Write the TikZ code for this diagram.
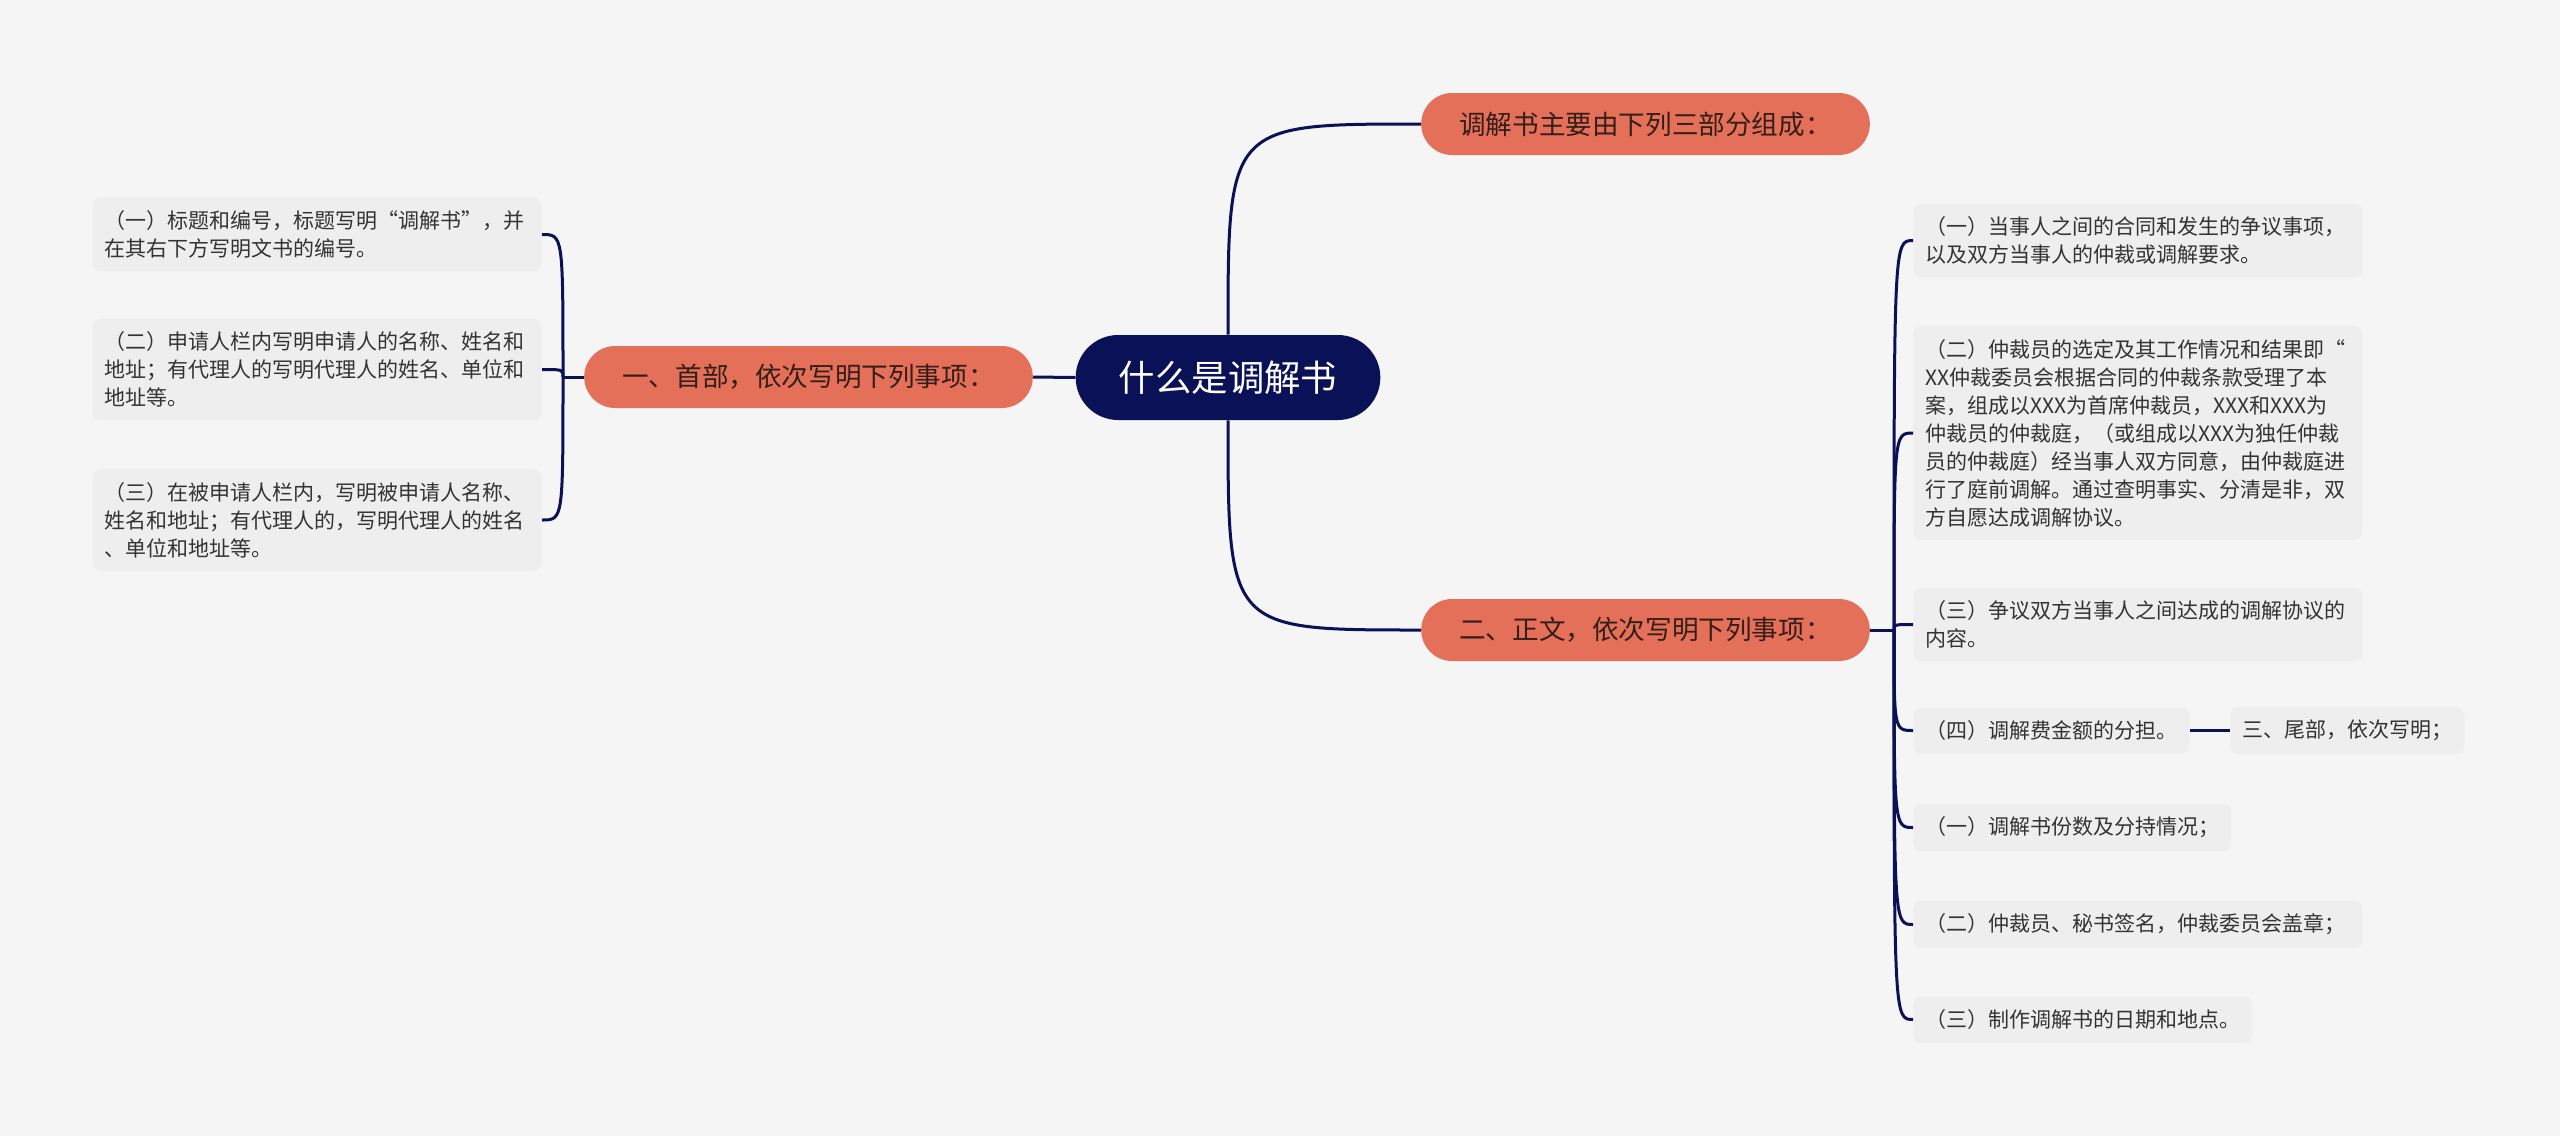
\documentclass[tikz,border=0pt]{standalone}
\usepackage{fontspec}
\setmainfont{Noto Sans CJK SC}
\usetikzlibrary{shapes.misc}
\definecolor{navy}{RGB}{11,17,87}
\definecolor{salmon}{RGB}{229,112,90}
\definecolor{darkbrown}{RGB}{52,30,24}
\definecolor{leafgray}{RGB}{238,238,238}
\definecolor{leaftext}{RGB}{51,51,51}
\definecolor{paper}{RGB}{245,245,245}

\begin{document}
\begin{tikzpicture}[x=0.5pt,y=-0.5pt,
	link/.style={draw=navy,line width=1.5pt},
	rootbox/.style={rounded rectangle,fill=navy,text=white,
		font=\fontsize{18.2}{22}\selectfont,minimum width=159pt,minimum height=42.5pt},
	mainbox/.style={rounded rectangle,fill=salmon,text=darkbrown,
		font=\fontsize{13.3}{16}\selectfont,minimum width=231pt,minimum height=31pt},
	leaf/.style={rounded corners=4pt,fill=leafgray,text=leaftext,align=left,
		font=\fontsize{10.5}{14}\selectfont,inner xsep=6pt,inner ysep=6.5pt},
	wide/.style={leaf,text width=212.5pt}]
	\fill[paper] (0,0) rectangle (2560,1136);
	\useasboundingbox (0,0) rectangle (2560,1136);
	% centre and main branches
	\node[rootbox] (root) at (1228,377.5) {什么是调解书};
	\node[mainbox] (first) at (808.5,377) {一、首部，依次写明下列事项：};
	\node[mainbox] (top) at (1645.5,124) {调解书主要由下列三部分组成：};
	\node[mainbox] (second) at (1645.5,630) {二、正文，依次写明下列事项：};
	% left leaves
	\node[wide,anchor=east] (h1) at (542,234.5) {（一）标题和编号，标题写明“调解书”，并\\在其右下方写明文书的编号。};
	\node[wide,anchor=east] (h2) at (542,369.5) {（二）申请人栏内写明申请人的名称、姓名和\\地址；有代理人的写明代理人的姓名、单位和\\地址等。};
	\node[wide,anchor=east] (h3) at (542,520) {（三）在被申请人栏内，写明被申请人名称、\\姓名和地址；有代理人的，写明代理人的姓名\\、单位和地址等。};
	% right leaves
	\node[wide,anchor=west] (b1) at (1913,240.5) {（一）当事人之间的合同和发生的争议事项，\\以及双方当事人的仲裁或调解要求。};
	\node[wide,anchor=west] (b2) at (1913,433) {（二）仲裁员的选定及其工作情况和结果即“\\XX仲裁委员会根据合同的仲裁条款受理了本\\案，组成以XXX为首席仲裁员，XXX和XXX为\\仲裁员的仲裁庭，（或组成以XXX为独任仲裁\\员的仲裁庭）经当事人双方同意，由仲裁庭进\\行了庭前调解。通过查明事实、分清是非，双\\方自愿达成调解协议。};
	\node[wide,anchor=west] (b3) at (1913,624.5) {（三）争议双方当事人之间达成的调解协议的\\内容。};
	\node[leaf,anchor=west] (b4) at (1913,730.5) {（四）调解费金额的分担。};
	\node[leaf,anchor=west] (tail) at (2230,730.5) {三、尾部，依次写明；};
	\node[leaf,anchor=west] (b5) at (1913,827.5) {（一）调解书份数及分持情况；};
	\node[wide,anchor=west] (b6) at (1913,924.5) {（二）仲裁员、秘书签名，仲裁委员会盖章；};
	\node[leaf,anchor=west] (b7) at (1913,1019.5) {（三）制作调解书的日期和地点。};
	\coordinate (hf) at (563,377);
	\coordinate (bf) at (1894,630);
	% connectors
	\draw[link] (root.west) -- (first.east);
	\draw[link] (root.north) .. controls (root.north|-top.west) .. (top.west);
	\draw[link] (root.south) .. controls (root.south|-second.west) .. (second.west);
	\draw[link] (first.west) -- (hf);
	\foreach \n in {h1,h2,h3}
		\draw[link] (hf) .. controls (hf|-\n.east) .. (\n.east);
	\draw[link] (second.east) -- (bf);
	\foreach \n in {b1,b2,b3,b4,b5,b6,b7}
		\draw[link] (bf) .. controls (bf|-\n.west) .. (\n.west);
	\draw[link] (b4.east) -- (tail.west);
\end{tikzpicture}
\end{document}
